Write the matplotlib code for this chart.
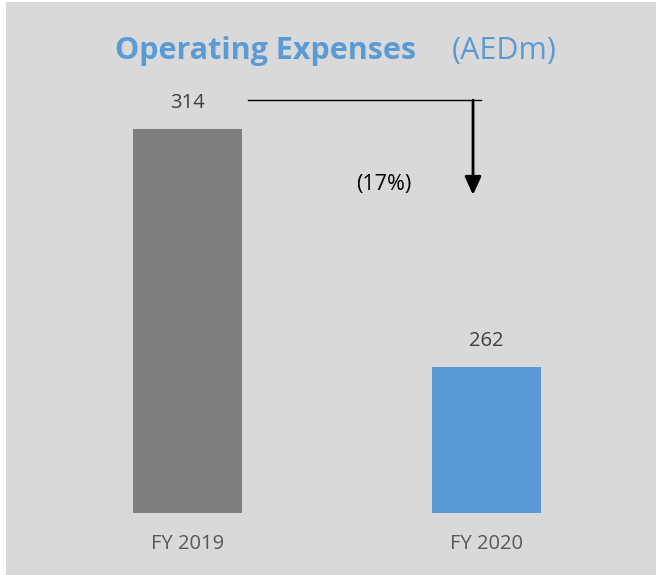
import matplotlib
matplotlib.use("Agg")
import matplotlib.pyplot as plt
from matplotlib.patches import Rectangle

# data
categories = ["FY 2019", "FY 2020"]
values = [314, 262]
bar_colors = ["#7f7f7f", "#5b9bd5"]
change_label = "(17%)"

title_main = "Operating Expenses"
title_unit = "(AEDm)"

plt.rcParams["font.family"] = ["Open Sans", "DejaVu Sans"]

fig = plt.figure(figsize=(6.56, 5.75), dpi=100, facecolor="white")
fig.patches.append(Rectangle((6 / 656, 0), 1, 1 - 2 / 575, transform=fig.transFigure,
                             facecolor="#d9d9d9", edgecolor="none", zorder=-5))

# axes: bottom at 513px, top at 80px
ax = fig.add_axes([0, (575 - 513) / 575, 1, 433 / 575])
ax.set_facecolor("none")
x = list(range(len(categories)))
ax.bar(x, values, width=0.3645, color=bar_colors, zorder=2)
ax.set_xlim(-0.627, 1.567)
ax.set_ylim(230, 230 + 433 / 4.577)
for s in ax.spines.values():
    s.set_visible(False)
ax.set_yticks([])
ax.set_xticks(x)
ax.set_xticklabels(categories, fontsize=14.5, color="#595959")
ax.tick_params(axis="x", length=0, pad=15)

for xi, v in zip(x, values):
    ax.annotate(str(v), (xi, v), xytext=(0, 18.5), textcoords="offset points",
                ha="center", va="center", fontsize=14.5, color="#404040")

# change arrow
y_line = 320.2
ax.plot([0.202, 0.982], [y_line, y_line], color="black", lw=1.0, zorder=3)
ax.annotate("", xy=(0.955, 299.5), xytext=(0.955, y_line),
            arrowprops=dict(arrowstyle="-|>,head_length=1.1,head_width=0.5",
                            color="black", lw=2.0, shrinkA=0, shrinkB=0))
ax.text(0.657, 301.7, change_label, ha="center", va="center", fontsize=15.5, color="black")

# title
fig.text(115 / 656, 1 - 51 / 575, title_main, ha="left", va="center", fontsize=22,
         fontweight="bold", color="#5b9bd5")
fig.text(557 / 656, 1 - 51 / 575, title_unit, ha="right", va="center", fontsize=22,
         color="#5b9bd5")

fig.savefig("out.png", dpi=100, facecolor=fig.get_facecolor())
